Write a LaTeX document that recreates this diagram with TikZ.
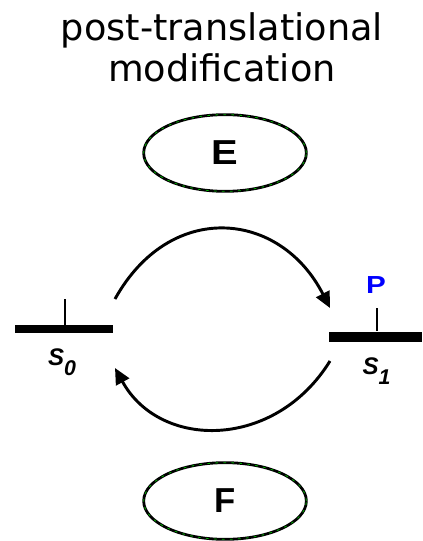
\documentclass[tikz,border=0pt]{standalone}
\usepackage{fontspec}
\setmainfont{Liberation Sans}
\newfontfamily\titlefont{DejaVu Sans}
\usetikzlibrary{shapes.geometric,arrows.meta}
\begin{document}
\begin{tikzpicture}[x=0.75pt,y=-0.75pt,
  enz/.style={ellipse,draw=black,line width=2.1pt,minimum width=122pt,minimum height=57.5pt,inner sep=0pt,
    font=\fontsize{26}{30}\selectfont\bfseries,
    postaction={draw=green!70!black,dash pattern=on 2pt off 4pt,line width=0.6pt}},
  titletext/.style={anchor=base,inner sep=0pt,font=\titlefont\fontsize{27.5}{32}\selectfont},
  bar/.style={fill=black,draw=none,inner sep=0pt},
  tick/.style={line width=2pt},
  lbl/.style={inner sep=0pt,font=\fontsize{18}{20}\selectfont\bfseries\itshape},
  conv/.style={line width=2.2pt,-{Triangle[length=12pt,width=11pt]}}]
\useasboundingbox (0,0) rectangle (422,541);
% title
\node[titletext] (t1) at (222,41) {post-translational};
\node[titletext] (t2) at (222,82) {modification};
% enzymes
\node[enz] (E) at (225,153) {\scalebox{1.15}[1]{E}};
\node[enz] (F) at (225,501) {F};
% states
\node[bar,minimum width=73.5pt,minimum height=6pt] (s0) at (64,329) {};
\coordinate (s0t) at (65,299);
\draw[tick] (s0t) -- (s0t |- s0.north);
\node[lbl] (s0l) at (62,362) {S\raisebox{-7.5pt}{\fontsize{16}{18}\selectfont 0}};
\node[bar,minimum width=70pt,minimum height=7.5pt] (s1) at (375.5,336.5) {};
\coordinate (s1t) at (377,308);
\draw[tick] (s1t) -- (s1t |- s1.north);
\node[lbl] (s1l) at (376.5,371) {S\raisebox{-7.5pt}{\fontsize{16}{18}\selectfont 1}};
\node[inner sep=0pt,text=blue,font=\fontsize{18.5}{20}\selectfont\bfseries] (P) at (376,285) {\scalebox{1.2}[1]{P}};
% conversions
\coordinate (a1) at (115,299);
\coordinate (a2) at (330,308);
\coordinate (b1) at (330,361);
\coordinate (b2) at (115,368);
\draw[conv] (a1) .. controls (170,200) and (280,210) .. (a2);
\draw[conv] (b1) .. controls (275,450) and (160,450) .. (b2);
\end{tikzpicture}
\end{document}
